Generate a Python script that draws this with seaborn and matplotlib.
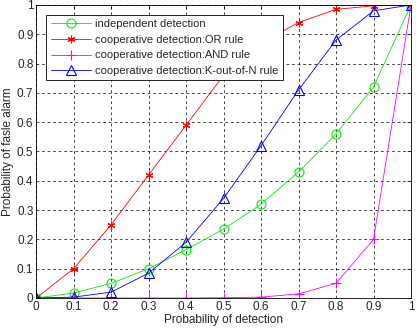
import numpy as np
import pandas as pd
import seaborn as sns
import matplotlib
matplotlib.use("Agg")
import matplotlib.pyplot as plt

# probability of detection (x axis)
pd_vals = [0, 0.1, 0.2, 0.3, 0.4, 0.5, 0.6, 0.7, 0.8, 0.9, 1.0]

# probability of false alarm for each scheme
independent = [0, 0.017, 0.05, 0.10, 0.165, 0.235, 0.32, 0.43, 0.56, 0.72, 1.0]
or_rule = [0, 0.10, 0.25, 0.42, 0.59, 0.76, 0.87, 0.94, 0.985, 0.997, 1.0]
and_rule = [0, 0, 0, 0, 0, 0.001, 0.003, 0.014, 0.05, 0.20, 1.0]
k_out_of_n = [0, 0.003, 0.02, 0.085, 0.19, 0.34, 0.52, 0.71, 0.88, 0.98, 1.0]

labels = ["independent detection",
          "cooperative detection:OR rule",
          "cooperative detection:AND rule",
          "cooperative detection:K-out-of-N rule"]

sns.set_style("white")
plt.rcParams['font.family'] = ['Liberation Sans', 'DejaVu Sans']

fig = plt.figure(figsize=(4.16, 3.30), dpi=100)
ax = fig.add_axes([0.087, 0.097, 0.901, 0.888])

# colour, marker, size, filled marker?
styles = [("#00ee00", "o", 6.5, False),
          ("#ff0000", (6, 2, 0), 5.5, True),
          ("#ff00ff", "+", 6.5, True),
          ("#0000ff", "^", 6.5, False)]

for vals, lab, (col, mk, ms, filled) in zip([independent, or_rule, and_rule, k_out_of_n], labels, styles):
    sns.lineplot(x=pd_vals, y=vals, ax=ax, color=col, linewidth=0.6,
                 marker=mk, markersize=ms,
                 markerfacecolor=col if filled else "none",
                 markeredgecolor=col, markeredgewidth=0.8, label=lab)

ax.set_xlim(0, 1)
ax.set_ylim(0, 1)
ax.set_xticks(np.arange(0, 1.01, 0.1))
ax.set_yticks(np.arange(0, 1.01, 0.1))
ax.set_xticklabels(["0", "0.1", "0.2", "0.3", "0.4", "0.5", "0.6", "0.7", "0.8", "0.9", "1"])
ax.set_yticklabels(["0", "0.1", "0.2", "0.3", "0.4", "0.5", "0.6", "0.7", "0.8", "0.9", "1"])
ax.grid(True, color="black", linestyle=(0, (4, 4)), linewidth=0.5)
ax.tick_params(direction="in", length=3, width=0.5, labelsize=8.5, pad=2,
               top=True, right=True, color="black")
for s in ax.spines.values():
    s.set_color("black")
    s.set_linewidth(0.6)

ax.set_xlabel("Probability of detection", fontsize=8.5, labelpad=1)
ax.set_ylabel("Probability of fasle alarm", fontsize=8.5, labelpad=2)

leg = ax.legend(loc="upper left", bbox_to_anchor=(0.027, 0.966), fontsize=8,
                frameon=True, fancybox=False, framealpha=1, edgecolor="black",
                handlelength=3.6, borderpad=0.4, labelspacing=0.5, handletextpad=0.4,
                borderaxespad=0)
leg.get_frame().set_linewidth(0.6)

fig.savefig("out.png", dpi=100)
